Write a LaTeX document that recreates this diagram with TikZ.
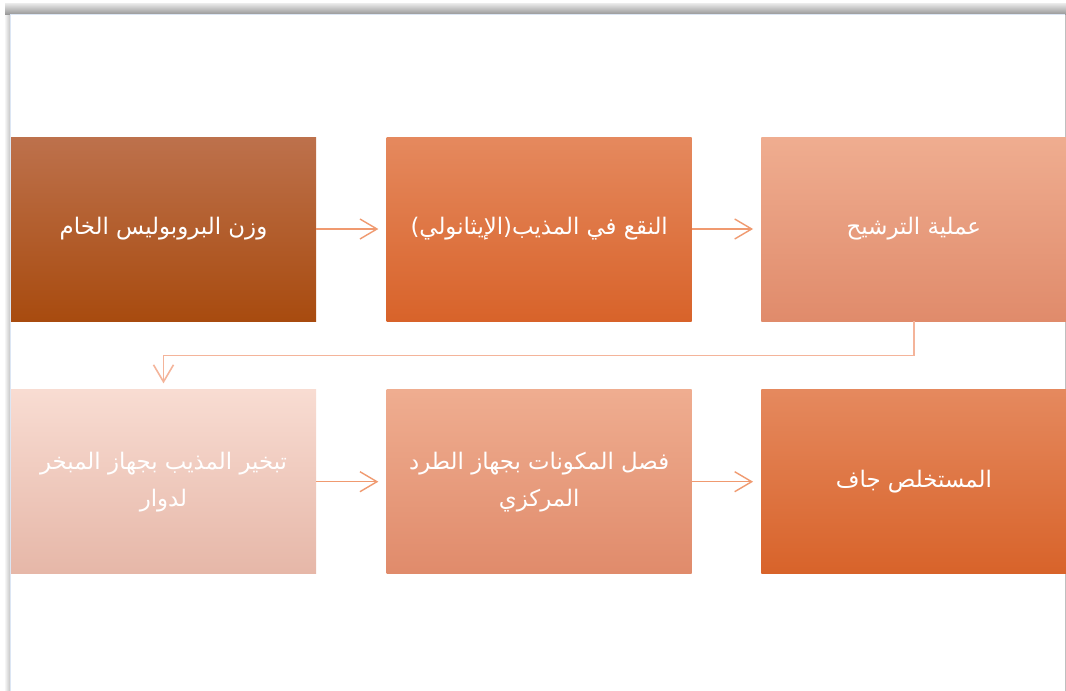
\documentclass[tikz,border=0pt]{standalone}
\usepackage{fontspec}
\usepackage{xcolor}
\usepackage{tikz}
\usetikzlibrary{arrows.meta,positioning}
\TeXXeTstate=1
\newfontfamily\arabicfont[Script=Arabic]{DejaVu Sans}
\definecolor{rustTop}{HTML}{BD714C}
\definecolor{rustBot}{HTML}{A84B0F}
\definecolor{orangeTop}{HTML}{E5895E}
\definecolor{orangeBot}{HTML}{D8632A}
\definecolor{salmonTop}{HTML}{EFAD90}
\definecolor{salmonBot}{HTML}{E08B6B}
\definecolor{paleTop}{HTML}{F8DCD2}
\definecolor{paleBot}{HTML}{E6B7A8}
\definecolor{arrowline}{HTML}{F09A70}
\definecolor{linkline}{HTML}{F4B49A}
\definecolor{edgeblue}{HTML}{DCE6F4}

\begin{document}
\begin{tikzpicture}[
  font=\arabicfont\fontsize{13}{21}\selectfont,
  box/.style={minimum width=6.1cm, minimum height=3.68cm, inner sep=0pt,
              align=center, text=white},
  arr/.style={-{Straight Barb[length=0.34cm, width=0.4cm]}, line width=0.8pt,
              draw=arrowline, shorten >=0.16cm},
  link/.style={-{Straight Barb[length=0.34cm, width=0.4cm]}, line width=0.9pt,
               draw=linkline, shorten >=0.12cm}
]
\useasboundingbox (0,0) rectangle (21.32,-13.82);
% page frame
\fill[white] (0,0) rectangle (21.32,-13.82);
\shade[left color=white, right color=gray!45] (0.08,-0.1) rectangle (0.2,-13.82);
\shade[top color=gray!15, bottom color=gray!80] (0.1,-0.06) rectangle (21.32,-0.28);
\draw[edgeblue, line width=0.8pt] (0.21,-13.82) -- (0.21,-0.29) -- (21.3,-0.29);
\draw[gray!50, line width=0.4pt] (21.3,-0.29) -- (21.3,-13.82);

% top row
\node[box, top color=rustTop, bottom color=rustBot] (weigh) at (3.27,-4.58)
  {\beginR وزن البروبوليس الخام\endR};
\node[box, top color=orangeTop, bottom color=orangeBot, right=1.4cm of weigh] (soak)
  {\beginR النقع في المذيب(الإيثانولي)\endR};
\node[box, top color=salmonTop, bottom color=salmonBot, right=1.38cm of soak] (filter)
  {\beginR عملية الترشيح\endR};

% bottom row
\node[box, top color=paleTop, bottom color=paleBot, below=1.36cm of weigh] (evap)
  {\beginR تبخير المذيب بجهاز المبخر\endR\\\beginR لدوار\endR};
\node[box, top color=salmonTop, bottom color=salmonBot, right=1.4cm of evap] (spin)
  {\beginR فصل المكونات بجهاز الطرد\endR\\\beginR المركزي\endR};
\node[box, top color=orangeTop, bottom color=orangeBot, right=1.38cm of spin] (dry)
  {\beginR المستخلص جاف\endR};

\draw[arr] (weigh) -- (soak);
\draw[arr] (soak) -- (filter);
\draw[link] (filter.south) -- ++(0,-0.68) -| (evap.north);
\draw[arr] (evap) -- (spin);
\draw[arr] (spin) -- (dry);
\end{tikzpicture}
\end{document}
